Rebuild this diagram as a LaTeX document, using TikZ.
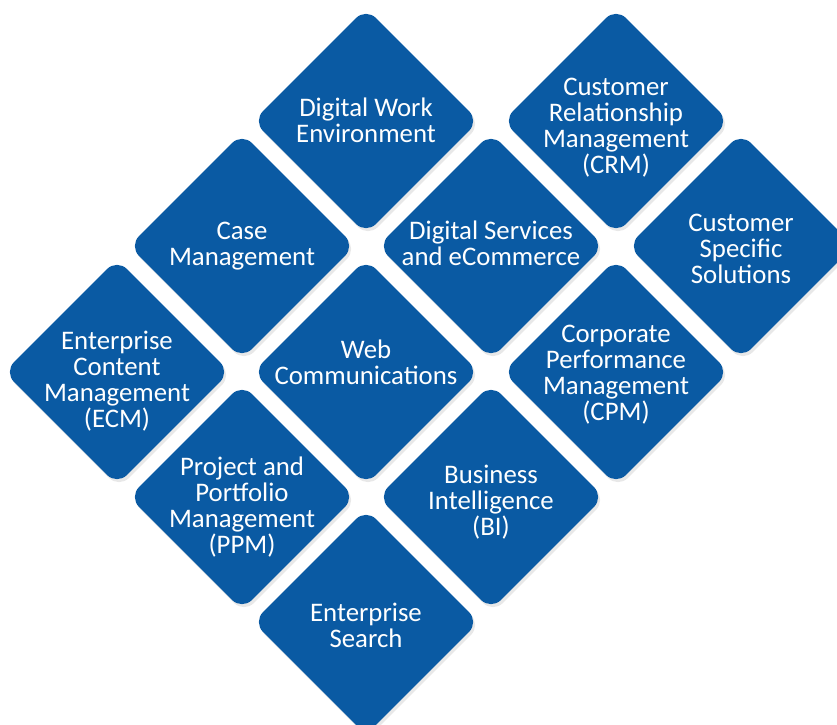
\documentclass[tikz,border=0pt]{standalone}
\usepackage{fontspec}
\setmainfont{Carlito}
\usetikzlibrary{shapes.geometric,shadows}

\definecolor{tileblue}{RGB}{10,90,163}
\tikzset{
  tile/.style={diamond, aspect=1, minimum width=226pt, minimum height=226pt,
    inner sep=0pt, rounded corners=14pt, fill=tileblue,
    drop shadow={shadow xshift=2pt, shadow yshift=-3pt, opacity=0.18}},
  tiletext/.style={text=white, align=center, inner sep=0pt,
    font=\fontsize{26.8}{26}\selectfont}
}

\begin{document}
\begin{tikzpicture}[x=1pt,y=-1pt]
  \useasboundingbox (0,0) rectangle (837,724);

  % the tiles
  \node (dwe)    at (366,121) [tile] {};
  \node (crm)    at (616,121) [tile] {};
  \node (case)   at (242,246) [tile] {};
  \node (dse)    at (491,246) [tile] {};
  \node (css)    at (741,246) [tile] {};
  \node (ecm)    at (117,372) [tile] {};
  \node (web)    at (366,372) [tile] {};
  \node (cpm)    at (616,372) [tile] {};
  \node (ppm)    at (242,497) [tile] {};
  \node (bi)     at (491,497) [tile] {};
  \node (search) at (366,622) [tile] {};

  % their texts
  \node (dwetext)    at (366,120) [tiletext] {Digital Work\\Environment};
  \node (crmtext)    at (616,128) [tiletext] {Customer\\Relationship\\Management\\(CRM)};
  \node (casetext)   at (242,246) [tiletext] {Case\\Management};
  \node (dsetext)    at (491,243) [tiletext] {Digital Services\\and eCommerce};
  \node (csstext)    at (741,249) [tiletext] {Customer\\Specific\\Solutions};
  \node (ecmtext)    at (117,381) [tiletext] {Enterprise\\Content\\Management\\(ECM)};
  \node (webtext)    at (366,362) [tiletext] {Web\\Communications};
  \node (cpmtext)    at (616,375) [tiletext] {Corporate\\Performance\\Management\\(CPM)};
  \node (ppmtext)    at (242,507) [tiletext] {Project and\\Portfolio\\Management\\(PPM)};
  \node (bitext)     at (491,502) [tiletext] {Business\\Intelligence\\(BI)};
  \node (searchtext) at (366,625) [tiletext] {Enterprise\\Search};
\end{tikzpicture}
\end{document}
